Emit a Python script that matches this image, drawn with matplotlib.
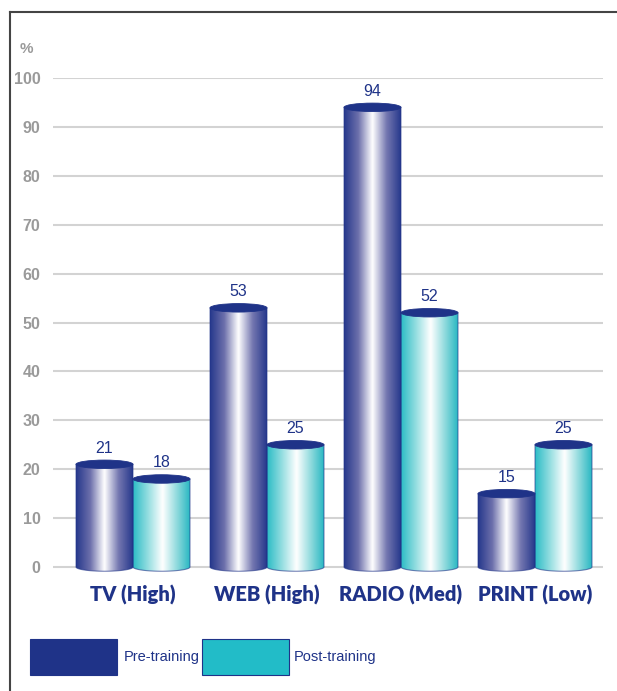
import numpy as np
import matplotlib
matplotlib.use("Agg")
import matplotlib.pyplot as plt
from matplotlib.colors import LinearSegmentedColormap
from matplotlib.patches import Ellipse, Rectangle, PathPatch
from matplotlib.path import Path

# survey results by media channel
categories = ["TV (High)", "WEB (High)", "RADIO (Med)", "PRINT (Low)"]
pre_training = [21, 53, 94, 15]
post_training = [18, 25, 52, 25]
series_names = ["Pre-training", "Post-training"]
y_ticks = [0, 10, 20, 30, 40, 50, 60, 70, 80, 90, 100]

NAVY = "#1f3388"
CYAN = "#22bcc8"
GRID = "#d3d3d3"
TICK = "#9a9a9a"
NARROW = ["Liberation Sans Narrow", "Liberation Sans"]

pre_cmap = LinearSegmentedColormap.from_list(
    "pre", [(0, "#26388c"), (0.25, "#6c6fab"), (0.5, "#ffffff"),
            (0.75, "#7477b0"), (1, "#26388c")])
post_cmap = LinearSegmentedColormap.from_list(
    "post", [(0, "#2cbcc6"), (0.25, "#8fdcdf"), (0.52, "#ffffff"),
             (0.78, "#8cd9dc"), (1, "#2ab8c3")])

W, H = 617, 691
fig = plt.figure(figsize=(W / 100, H / 100), dpi=100)

# plotting area in pixel terms; a little room under zero for the round bar bottoms
left_px, right_px = 53, 603
y0_px, y100_px = 567, 78
px_per_unit = (y0_px - y100_px) / 100
ell_h = 8.5 / px_per_unit
ymin = -ell_h
bottom_px = y0_px - ymin * px_per_unit
ax = fig.add_axes([left_px / W, (H - bottom_px) / H,
                   (right_px - left_px) / W, (bottom_px - y100_px) / H])

spacing_px = 134
first_px = 133
xmin = -(first_px - left_px) / spacing_px
xmax = xmin + (right_px - left_px) / spacing_px
bar_w = 57 / spacing_px


def cylinder(x_left, value, cmap):
    x_right = x_left + bar_w
    xc = (x_left + x_right) / 2
    t = np.linspace(np.pi, 2 * np.pi, 40)
    bx = xc + bar_w / 2 * np.cos(t)
    by = ell_h / 2 * np.sin(t)
    verts = [(x_left, value)] + list(zip(bx, by)) + [(x_right, value), (x_left, value)]
    codes = [Path.MOVETO] + [Path.LINETO] * (len(verts) - 2) + [Path.CLOSEPOLY]
    body = Path(verts, codes)
    grad = np.linspace(0, 1, 256).reshape(1, -1)
    im = ax.imshow(grad, cmap=cmap, aspect="auto", interpolation="bicubic",
                   extent=[x_left, x_right, ymin, value], zorder=3)
    im.set_clip_path(body, transform=ax.transData)
    outline = PathPatch(body, facecolor="none", edgecolor=NAVY,
                        lw=0.8, alpha=0.6, zorder=4, clip_on=False)
    ax.add_patch(outline)
    top = Ellipse((xc, value), bar_w, ell_h, facecolor=NAVY, edgecolor=NAVY,
                  lw=0.6, zorder=5, clip_on=False)
    ax.add_patch(top)
    ax.text(xc, value + ell_h / 2 + 0.9, f"{value}", ha="center", va="bottom",
            color=NAVY, fontsize=11.5, family=NARROW, zorder=6)


for i, (a, b) in enumerate(zip(pre_training, post_training)):
    cylinder(i - bar_w, a, pre_cmap)
    cylinder(i, b, post_cmap)
    ax.text(i, -3.6, categories[i], ha="center", va="top", color=NAVY,
            fontsize=14.5, fontweight="heavy", family=["Lato", "DejaVu Sans"])

ax.set_xlim(xmin, xmax)
ax.set_ylim(ymin, 100)
ax.set_yticks(y_ticks)
ax.set_yticklabels([str(v) for v in y_ticks], color=TICK, fontsize=11.5,
                   fontweight="bold", family="Liberation Sans")
ax.tick_params(axis="y", length=0, pad=9)
ax.set_xticks([])
for s in ax.spines.values():
    s.set_visible(False)
ax.grid(axis="y", color=GRID, lw=1.5, zorder=0)
ax.set_axisbelow(True)

# frame, unit label and legend drawn in pixel coordinates
ov = fig.add_axes([0, 0, 1, 1], zorder=-1)
ov.set_xlim(0, W)
ov.set_ylim(H, 0)
ov.axis("off")
ov.plot([10, W], [12, 12], color="#444444", lw=1.5)
ov.plot([10, 10], [12, H], color="#444444", lw=1.5)

leg = fig.add_axes([0, 0, 1, 1], zorder=5)
leg.set_xlim(0, W)
leg.set_ylim(H, 0)
leg.axis("off")
leg.text(20, 49, "%", color=TICK, fontsize=11, fontweight="bold",
         family="Liberation Sans", ha="left", va="center")
for (bx, tx), name, col in zip([(30, 124), (202, 294)], series_names, [NAVY, CYAN]):
    leg.add_patch(Rectangle((bx, 639), 87, 36, facecolor=col, edgecolor=NAVY, lw=0.8))
    leg.text(tx, 657, name, ha="left", va="center", color=NAVY, fontsize=10.5,
             family=NARROW)

fig.savefig("out.png", dpi=100)
